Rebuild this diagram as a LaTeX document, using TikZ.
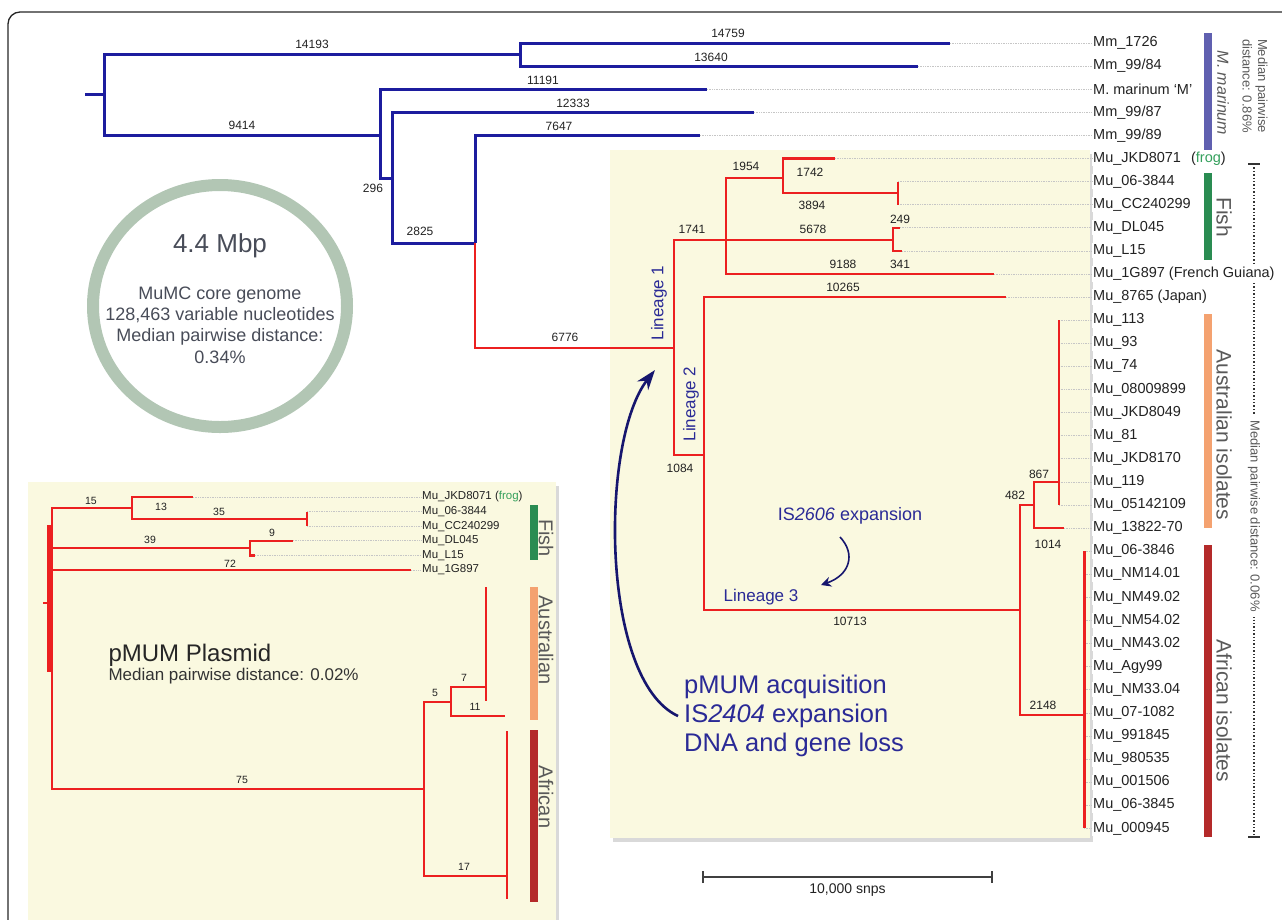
\documentclass[tikz,border=0pt]{standalone}
\usepackage{fontspec}
\setmainfont{Liberation Sans}
\usetikzlibrary{arrows.meta,shadows}
\definecolor{treeblue}{RGB}{28,28,158}
\definecolor{treered}{RGB}{236,32,32}
\definecolor{annblue}{RGB}{42,42,150}
\definecolor{navy}{RGB}{22,22,110}
\definecolor{panel}{RGB}{250,249,224}
\definecolor{ringcol}{RGB}{178,198,180}
\definecolor{ringtext}{RGB}{72,76,88}
\definecolor{barmm}{RGB}{96,96,176}
\definecolor{barfish}{RGB}{42,140,82}
\definecolor{baraus}{RGB}{244,162,112}
\definecolor{barafr}{RGB}{180,42,42}
\definecolor{frog}{RGB}{52,160,92}
\definecolor{txt}{RGB}{34,34,34}
\newcommand{\fsz}[2][1.18]{\fontsize{#2}{\fpeval{#1*#2}}\selectfont}
\tikzstyle{every picture}+=[x=1pt,y=-1pt]
\tikzstyle{every picture}+=[line cap=butt]
\tikzstyle{frame}=[draw=black!85, line width=1.3pt, rounded corners=12pt]
\tikzstyle{panelbox}=[fill=panel, drop shadow={opacity=0.3, shadow xshift=3pt, shadow yshift=-4pt}]
\tikzstyle{blu}=[draw=treeblue, line width=3pt]
\tikzstyle{lin}=[draw=treered, line width=2.6pt]
\tikzstyle{plas}=[draw=treered, line width=2.4pt]
\tikzstyle{leader}=[draw=gray!45, densely dotted, line width=0.7pt]
\tikzstyle{leaf}=[anchor=west, inner sep=1pt, fill=white, text=txt, font=\fsz{14.5}]
\tikzstyle{pleaf}=[anchor=west, inner sep=1pt, text=txt, font=\fsz{11.5}]
\tikzstyle{bl}=[text=txt, font=\fsz{12}, inner sep=1pt]
\tikzstyle{pbl}=[text=txt, font=\fsz{10.5}, inner sep=1pt]
\tikzstyle{clade}=[line width=8pt]
\tikzstyle{cladetext}=[rotate=-90, text=black!65, font=\fsz{21}, inner sep=1pt]
\tikzstyle{mednote}=[rotate=-90, text=black!65, font=\fsz{13}, inner sep=1pt]
\tikzstyle{bracket}=[draw=black!80, dotted, line width=1.4pt]
\tikzstyle{tick}=[draw=black!80, line width=1.6pt]
\tikzstyle{ann}=[text=annblue, inner sep=1pt]
\tikzstyle{bigarr}=[draw=navy, line width=2.6pt, -{Stealth[length=20pt,width=14pt]}]
\tikzstyle{smallarr}=[draw=navy, line width=1.6pt, -{Stealth[length=10pt,width=10pt]}]
\tikzstyle{scalebar}=[draw=black!75, line width=1.6pt, {Bar[width=12pt]}-{Bar[width=12pt]}]
\begin{document}
\begin{tikzpicture}
\useasboundingbox (0,0) rectangle (1282,919);
\clip (0,0) rectangle (1282,919);
\draw[frame] (8,12) rectangle (1300,950);

% yellow panels
\fill[panelbox] (610,150) rectangle (1090,838);
\fill[panelbox] (28,482) rectangle (556,950);

% core genome ring
\draw[draw=ringcol, line width=12pt] (220,306) ellipse [x radius=127pt, y radius=121pt];
\node[text=ringtext, font=\fsz{26}] (mbp) at (220,246) {4.4 Mbp};
\node[text=ringtext, font={\fsz[1.19]{18}}, align=center] (core) at (220,325)
  {MuMC core genome\\128,463 variable nucleotides\\Median pairwise distance:\\0.34\%};

% distance bracket
\coordinate (bt) at (1254,164);
\coordinate (bb) at (1254,837);
\draw[bracket] (bt) -- (bb);
\draw[tick] ([xshift=-6pt]bt) -- ([xshift=6pt]bt);
\draw[tick] ([xshift=-6pt]bb) -- ([xshift=6pt]bb);
\node[mednote, fill=white, inner xsep=5pt] (md06) at (1254,516) {Median pairwise distance: 0.06\%};
\node[mednote, align=center, font={\fsz[1.2]{13}}] (md86) at (1255,86) {Median pairwise\\distance: 0.86\%};

% leaves
\foreach \tx/\lab [count=\i from 0] in {
  950/{Mm\_1726}, 918/{Mm\_99/84}, 707/{M. marinum ‘M’}, 754/{Mm\_99/87}, 700/{Mm\_99/89},
  835/{Mu\_JKD8071\hspace{10pt}(\textcolor{frog}{frog})}, 898/{Mu\_06-3844}, 898/{Mu\_CC240299},
  900/{Mu\_DL045}, 902/{Mu\_L15}, 994/{Mu\_1G897 (French Guiana)}, 1006/{Mu\_8765 (Japan)},
  1059/{Mu\_113}, 1059/{Mu\_93}, 1059/{Mu\_74}, 1059/{Mu\_08009899}, 1059/{Mu\_JKD8049},
  1059/{Mu\_81}, 1059/{Mu\_JKD8170}, 1059/{Mu\_119}, 1059/{Mu\_05142109}, 1064/{Mu\_13822-70},
  1084/{Mu\_06-3846}, 1084/{Mu\_NM14.01}, 1084/{Mu\_NM49.02}, 1084/{Mu\_NM54.02},
  1084/{Mu\_NM43.02}, 1084/{Mu\_Agy99}, 1084/{Mu\_NM33.04}, 1084/{Mu\_07-1082},
  1084/{Mu\_991845}, 1084/{Mu\_980535}, 1084/{Mu\_001506}, 1084/{Mu\_06-3845}, 1084/{Mu\_000945}}
{
  \coordinate (T\i) at (\tx,{43+23.1*\i});
  \node[leaf] (L\i) at (1092,{43+23.1*\i}) {\lab};
  \draw[leader] (T\i) -- (L\i.west);
}

% internal nodes
\coordinate (r0) at (85,94);
\coordinate (nR) at (104,94);
\coordinate (nA) at (520,54);
\coordinate (nB) at (380,135);
\coordinate (nC) at (392,178);
\coordinate (nD) at (475,243);
\coordinate (nE) at (674,348);
\coordinate (nF) at (726,240);
\coordinate (nG) at (704,455);
\coordinate (nH) at (783,178);
\coordinate (nJ) at (898,193);
\coordinate (nI) at (893,240);
\coordinate (nK) at (1020,610);
\coordinate (nL) at (1034,505);
\coordinate (nN) at (1059,481.9);
\coordinate (nM) at (1084,715);

\draw[blu] (r0) -- (nR) (nR) |- (nA) (nR) |- (nB) (nA) |- (T0) (nA) |- (T1)
  (nB) |- (T2) (nB) |- (nC) (nC) |- (T3) (nC) |- (nD) (nD) |- (T4);
\draw[lin] (nD) |- (nE) (nE) |- (nF) (nE) |- (nG) (nF) |- (nH) (nF) |- (nI) (nF) |- (T10)
  (nH) |- (T5) (nH) |- (nJ) (nJ) |- (T6) (nJ) |- (T7) (nI) |- (T8) (nI) |- (T9)
  (nG) |- (T11) (nG) |- (nK) (nK) |- (nL) (nK) |- (nM) (nL) |- (nN) (nL) |- (T21);
\foreach \i in {12,...,20} \draw[lin] (nN) |- (T\i);
\foreach \i in {22,...,34} \draw[lin, line width=3pt] (nM) |- (T\i);

% branch lengths
\node[bl] (w14193) at (312,44) {14193};
\node[bl] (w14759) at (728,33) {14759};
\node[bl] (w13640) at (711,57) {13640};
\node[bl] (w9414) at (242,125) {9414};
\node[bl] (w11191) at (543,80) {11191};
\node[bl] (w12333) at (573,103) {12333};
\node[bl] (w7647) at (559,126) {7647};
\node[bl] (w296) at (373,188) {296};
\node[bl] (w2825) at (420,231) {2825};
\node[bl] (w6776) at (565,337) {6776};
\node[bl] (w1741) at (692,229) {1741};
\node[bl] (w1954) at (746,166) {1954};
\node[bl] (w1742) at (810,172) {1742};
\node[bl] (w3894) at (812,205) {3894};
\node[bl] (w5678) at (813,229) {5678};
\node[bl] (w249) at (900,219) {249};
\node[bl] (w341) at (900,264) {341};
\node[bl] (w9188) at (843,264) {9188};
\node[bl] (w10265) at (843,287) {10265};
\node[bl] (w1084) at (680,468) {1084};
\node[bl] (w10713) at (850,621) {10713};
\node[bl] (w482) at (1015,495) {482};
\node[bl] (w867) at (1039,474) {867};
\node[bl] (w1014) at (1048,544) {1014};
\node[bl] (w2148) at (1043,705) {2148};

% clade bars
\draw[clade, barmm] (1208,33) -- (1208,150);
\draw[clade, barfish] (1208,173) -- (1208,260);
\draw[clade, baraus] (1208,314) -- (1208,528);
\draw[clade, barafr] (1208,545) -- (1208,837);
\node[cladetext, font={\fsz{16}\itshape}] (mmar) at (1223,93) {M. marinum};
\node[cladetext] (fish) at (1224,217) {Fish};
\node[cladetext] (aus) at (1224,435) {Australian isolates};
\node[cladetext] (afr) at (1224,711) {African isolates};

% lineages and events
\node[ann, rotate=90, font=\fsz{17}] (lin1) at (659,303) {Lineage 1};
\node[ann, rotate=90, font=\fsz{17}] (lin2) at (691,404) {Lineage 2};
\node[ann, font=\fsz{17}] (lin3) at (761,597) {Lineage 3};
\node[ann, font=\fsz{18}] (is26) at (850,516) {IS\textit{2606} expansion};
\coordinate (sa0) at (840,537);
\coordinate (sa1) at (821,585);
\draw[smallarr] (sa0) .. controls (856,554) and (850,575) .. (sa1);
\node[ann, anchor=west, align=left, font={\fsz[1.14]{25.5}}] (acq) at (683,716)
  {pMUM acquisition\\IS\textit{2404} expansion\\DNA and gene loss};
\coordinate (ba0) at (678,716);
\coordinate (ba1) at (655,370);
\draw[bigarr] (ba0) .. controls (600,680) and (600,440) .. (ba1);

% scale bar
\coordinate (sb0) at (702,877);
\coordinate (sb1) at (993,877);
\draw[scalebar] (sb0) -- node[below=3pt, text=txt, font=\fsz{14}] (snps) {10,000 snps} (sb1);

% plasmid tree
\foreach \tx/\lab [count=\i from 0] in {
  193/{Mu\_JKD8071 (\textcolor{frog}{frog})}, 307/{Mu\_06-3844}, 307/{Mu\_CC240299},
  293/{Mu\_DL045}, 255/{Mu\_L15}, 411/{Mu\_1G897}}
{
  \coordinate (PT\i) at (\tx,{497+14.6*\i});
  \node[pleaf] (PL\i) at (421,{497+14.6*\i}) {\lab};
  \draw[leader] (PT\i) -- (PL\i.west);
}
\coordinate (p0) at (43,603);
\coordinate (pR) at (52,603);
\coordinate (pA) at (132,508);
\coordinate (pB) at (250,548);
\coordinate (pC) at (424,789);
\coordinate (pD) at (307,519);
\coordinate (pE) at (451,702);
\coordinate (pF) at (486,687);
\coordinate (pG) at (507,876);
\coordinate (pT11) at (505,716);
\coordinate (pF1) at (486,587);
\coordinate (pF2) at (486,701);
\coordinate (pG1) at (507,731);
\coordinate (pG2) at (507,899);
\coordinate (pR1) at (49,525);
\coordinate (pR2) at (49,672);
\draw[plas] (p0) -- (pR) (pR) |- (pA) (pR) |- (pB) (pR) |- (PT5) (pR) |- (pC)
  (pA) |- (PT0) (pA) |- (pD) (pD) |- (PT1) (pD) |- (PT2) (pB) |- (PT3) (pB) |- (PT4)
  (pC) |- (pE) (pC) |- (pG) (pE) |- (pF) (pE) |- (pT11)
  (pF) |- (pF1) (pF) |- (pF2) (pG) |- (pG1) (pG) |- (pG2);
\draw[plas, line width=4.5pt] (pR1) -- (pR2);

\node[pbl] (v15) at (91,501) {15};
\node[pbl] (v13) at (161,507) {13};
\node[pbl] (v35) at (219,512) {35};
\node[pbl] (v39) at (150,540) {39};
\node[pbl] (v9) at (272,533) {9};
\node[pbl] (v72) at (230,564) {72};
\node[pbl] (v75) at (242,780) {75};
\node[pbl] (v5) at (435,693) {5};
\node[pbl] (v7) at (464,678) {7};
\node[pbl] (v11) at (475,707) {11};
\node[pbl] (v17) at (464,867) {17};

\draw[clade, barfish] (534,505) -- (534,560);
\draw[clade, baraus] (534,587) -- (534,720);
\draw[clade, barafr] (534,730) -- (534,902);
\node[cladetext, font=\fsz{20}] (pfish) at (546,538) {Fish};
\node[cladetext, font=\fsz{20}] (paus) at (546,640) {Australian};
\node[cladetext, font=\fsz{20}] (pafr) at (546,797) {African};

\node[anchor=west, text=black!85, font=\fsz{24}] (pmum) at (105,655) {pMUM Plasmid};
\node[anchor=west, text=black!80, font=\fsz{17}] (pmed) at (105,676) {Median pairwise distance: 0.02\%};
\end{tikzpicture}
\end{document}
